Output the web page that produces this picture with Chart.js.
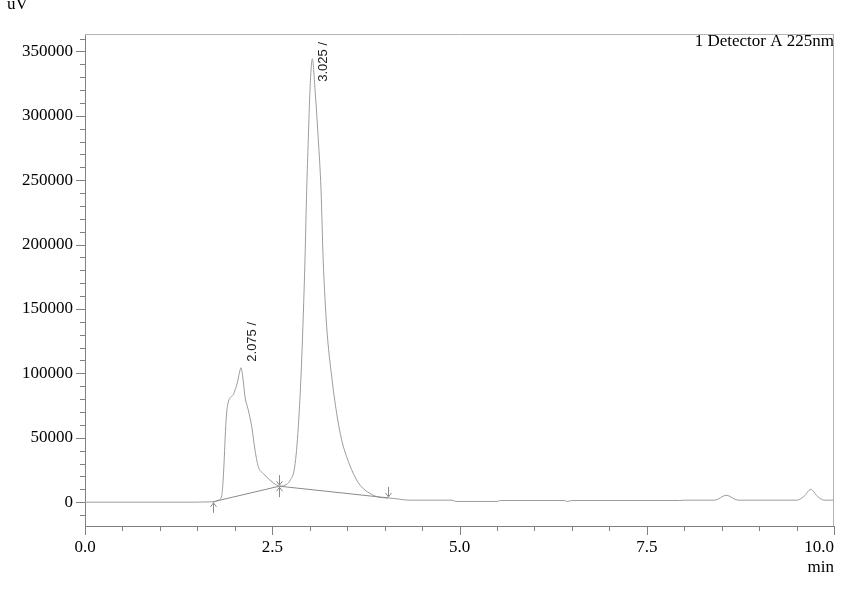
<!DOCTYPE html>
<html>
<head>
<meta charset="utf-8">
<script src="https://cdn.jsdelivr.net/npm/chart.js@4.4.1/dist/chart.umd.min.js"></script>
<style>
  html, body { margin: 0; padding: 0; background: #fff; }
  #wrap { width: 841px; height: 590px; }
</style>
</head>
<body>
<div id="wrap"><canvas id="chart" width="841" height="590"></canvas></div>
<script>
// --- Chromatogram data ---
const retentionTimes = [
  0, 1.0, 1.47, 1.67, 1.705, 1.78, 1.825, 1.845, 1.86, 1.875, 1.892, 1.91, 1.936, 1.98,
  2.003, 2.033, 2.06, 2.083, 2.10, 2.113, 2.136, 2.18, 2.226, 2.27, 2.314, 2.38, 2.47,
  2.56, 2.594, 2.67, 2.74, 2.80, 2.848, 2.893, 2.937, 2.96, 2.981, 3.004, 3.035, 3.071,
  3.115, 3.151, 3.18, 3.227, 3.294, 3.36, 3.427, 3.494, 3.582, 3.672, 3.805, 3.94, 4.05,
  4.34, 4.9, 4.95, 5.5, 5.55, 6.4, 6.44, 6.5, 7.94, 8.0, 8.41, 8.56, 8.72, 9.50, 9.60,
  9.69, 9.78, 9.87, 10.0
];
const signalValues = [
  0, 0, 0, 250, 230, 1500, 5000, 18000, 35000, 55000, 70000, 77000, 81000, 83500,
  87000, 92500, 100000, 104400, 100000, 94000, 82000, 71500, 58600, 40400, 27500, 22300, 17100,
  13200, 12400, 13200, 17000, 27500, 58600, 110400, 188200, 242600, 281500, 320400, 344300, 320400,
  281500, 242600, 188200, 136300, 97400, 69000, 48200, 35200, 22300, 13200, 6800, 3650, 3300,
  1550, 1550, 550, 550, 1300, 1300, 500, 1300, 1300, 1550, 1550, 5400, 1550, 1550, 4500,
  9900, 4500, 1550, 1550
];

// Integration baseline under the two peaks, with its event marks
const baselineTimes = [1.705, 2.594, 4.05];
const baselineValues = [230, 12400, 3300];
const baselineMarks = ['up', 'both', 'down'];

// Peak apex labels
const peakTimes = [2.075, 3.025];
const peakHeights = [104400, 344300];

// Axis labels
const xTickValues = [0, 2.5, 5, 7.5, 10];
const xTickLabels = ['0.0', '2.5', '5.0', '7.5', '10.0'];
const yTickValues = [0, 50000, 100000, 150000, 200000, 250000, 300000, 350000];
const yAxisTitle = 'uV';
const xAxisTitle = 'min';
const detectorLabel = '1 Detector A 225nm';

const SERIF = '"Liberation Serif", "Times New Roman", serif';
const AXIS_COLOR = '#808080';
const TRACE_COLOR = '#9c9c9c';

function toPoints(xs, ys) {
  return xs.map((t, i) => ({ x: t, y: ys[i] }));
}

// --- Drawing helpers for the chromatogram extras ---
function line(ctx, x1, y1, x2, y2) {
  ctx.beginPath();
  ctx.moveTo(x1, y1);
  ctx.lineTo(x2, y2);
  ctx.stroke();
}

function arrow(ctx, px, fromY, toY) {
  // shaft from fromY to toY, head at toY
  line(ctx, px, fromY, px, toY);
  const dir = toY > fromY ? -1 : 1;
  line(ctx, px, toY, px - 3, toY + dir * 4);
  line(ctx, px, toY, px + 3, toY + dir * 4);
}

const chromPlugin = {
  id: 'chromExtras',
  afterDraw(chart) {
    const ctx = chart.ctx;
    const area = chart.chartArea;
    const x = chart.scales.x;
    const y = chart.scales.y;
    ctx.save();

    // light frame on top and right
    ctx.strokeStyle = '#b4b4b4';
    ctx.lineWidth = 1;
    line(ctx, area.left, area.top + 0.5, area.right, area.top + 0.5);
    line(ctx, area.right - 0.5, area.top, area.right - 0.5, area.bottom);

    // major / minor tick marks
    ctx.strokeStyle = AXIS_COLOR;
    for (let v = 0; v <= 10.0001; v += 0.5) {
      const px = Math.round(x.getPixelForValue(v)) + 0.5;
      const major = Math.abs(v / 2.5 - Math.round(v / 2.5)) < 1e-6;
      line(ctx, px, area.bottom, px, area.bottom + (major ? 9 : 5));
    }
    for (let v = -10000; v <= 360000; v += 10000) {
      const py = Math.round(y.getPixelForValue(v)) + 0.5;
      const major = v % 50000 === 0;
      line(ctx, area.left, py, area.left - (major ? 9 : 5), py);
    }

    // x tick labels (last one kept inside the canvas)
    ctx.fillStyle = '#000';
    ctx.font = '17px ' + SERIF;
    ctx.textBaseline = 'alphabetic';
    ctx.textAlign = 'left';
    xTickValues.forEach((v, i) => {
      const w = ctx.measureText(xTickLabels[i]).width;
      let left = x.getPixelForValue(v) - w / 2;
      if (left + w > area.right) left = area.right - w;
      ctx.fillText(xTickLabels[i], left, area.bottom + 26);
    });

    // axis titles and detector label
    ctx.textAlign = 'right';
    ctx.fillText(xAxisTitle, area.right, area.bottom + 46);
    ctx.fillText(detectorLabel, area.right, area.top + 12);
    ctx.textAlign = 'left';
    ctx.fillText(yAxisTitle, 7, 9);

    // baseline event marks
    ctx.strokeStyle = '#8a8a8a';
    baselineTimes.forEach((t, i) => {
      const px = Math.round(x.getPixelForValue(t)) + 0.5;
      const py = y.getPixelForValue(baselineValues[i]);
      const kind = baselineMarks[i];
      if (kind === 'up' || kind === 'both') arrow(ctx, px, py + 11, py + 1);
      if (kind === 'down' || kind === 'both') arrow(ctx, px, py - 11, py - 1);
    });

    // rotated peak labels
    ctx.fillStyle = '#222';
    ctx.font = '13px "Liberation Sans", Arial, sans-serif';
    peakTimes.forEach((t, i) => {
      const text = t.toFixed(3) + ' /';
      const w = ctx.measureText(text).width;
      const px = x.getPixelForValue(t) + 12;
      const apexY = y.getPixelForValue(peakHeights[i]);
      const startY = Math.max(apexY - 6, area.top + 8 + w);
      ctx.save();
      ctx.translate(px, startY);
      ctx.rotate(-Math.PI / 2);
      ctx.textAlign = 'left';
      ctx.textBaseline = 'middle';
      ctx.fillText(text, 0, 0);
      ctx.restore();
    });

    ctx.restore();
  }
};

// --- Chart ---
const chromChart = new Chart(document.getElementById('chart').getContext('2d'), {
  type: 'line',
  data: {
    datasets: [{
      label: 'Integration baseline',
      data: toPoints(baselineTimes, baselineValues),
      borderColor: '#8a8a8a',
      borderWidth: 1,
      pointRadius: 0,
      tension: 0
    }, {
      label: detectorLabel,
      data: toPoints(retentionTimes, signalValues),
      borderColor: TRACE_COLOR,
      borderWidth: 1,
      pointRadius: 0,
      cubicInterpolationMode: 'monotone'
    }]
  },
  options: {
    responsive: false,
    animation: false,
    layout: { padding: { top: 34, right: 7, left: 0, bottom: 0 } },
    plugins: {
      legend: { display: false },
      tooltip: { enabled: false }
    },
    scales: {
      x: {
        type: 'linear',
        min: 0,
        max: 10,
        grid: { display: false, drawTicks: false },
        border: { display: true, color: AXIS_COLOR, width: 1 },
        ticks: { display: false },
        afterFit: s => { s.height = 64; }
      },
      y: {
        type: 'linear',
        min: -18500,
        max: 363500,
        grid: { display: false, drawTicks: false },
        border: { display: true, color: AXIS_COLOR, width: 1 },
        ticks: {
          padding: 12,
          color: '#000',
          font: { family: SERIF, size: 17 },
          callback: v => String(v)
        },
        afterBuildTicks: s => { s.ticks = yTickValues.map(v => ({ value: v })); },
        afterFit: s => { s.width = 85; }
      }
    }
  },
  plugins: [chromPlugin]
});
</script>
</body>
</html>
